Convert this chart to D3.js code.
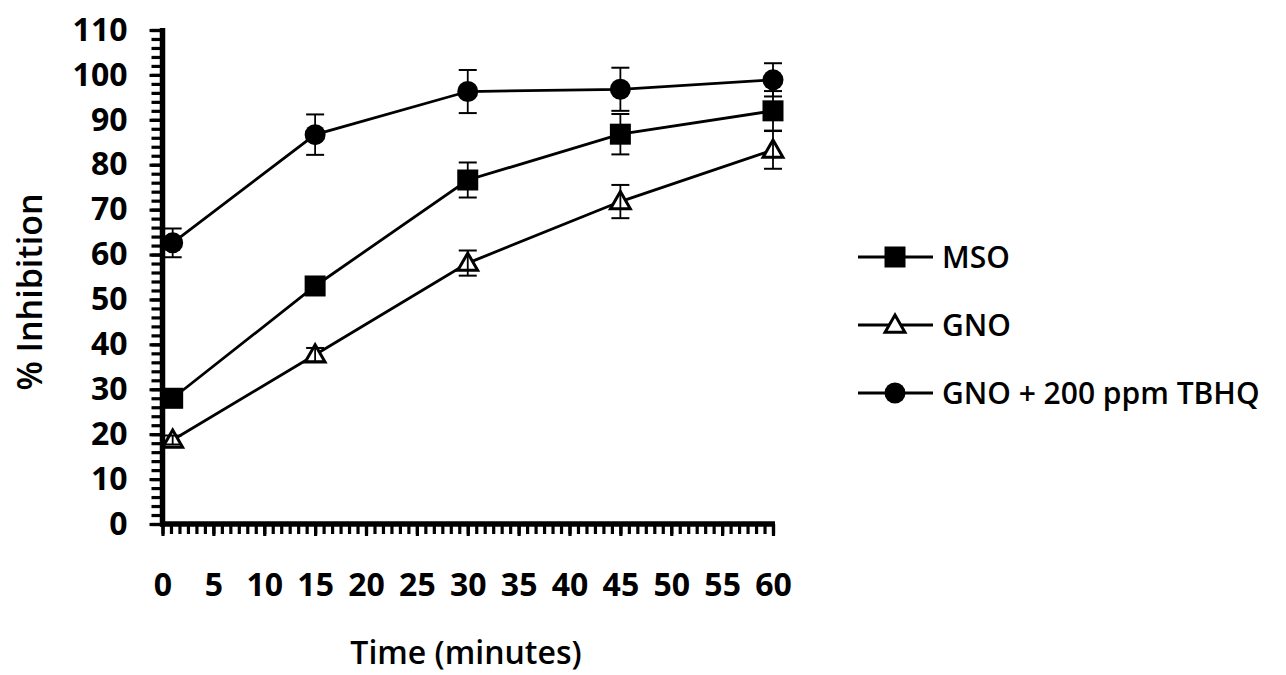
<!DOCTYPE html>
<html>
<head>
    <title>% Inhibition over time</title>
    <script src="https://cdn.jsdelivr.net/npm/d3@7"></script>
    <style>
        body {
            margin: 0;
            padding: 0;
            background-color: white;
        }

        .tick-label, .axis-title, .legend-label {
            font-family: "Open Sans", sans-serif;
            font-weight: 600;
            fill: black;
        }

        .tick-label {
            font-weight: 700;
        }
    </style>
</head>
<body>
    <div id="chart"></div>

    <script>
        // values
        const times = [1, 15, 30, 45, 60];
        const msoValues = [28, 53, 76.6, 86.8, 92];
        const msoErrors = [2, 2, 3.9, 4.5, 4.4];
        const gnoValues = [18.7, 37.7, 58.1, 71.8, 83.3];
        const gnoErrors = [1, 1.5, 2.8, 3.7, 4.2];
        const tbhqValues = [62.6, 86.7, 96.3, 96.8, 98.9];
        const tbhqErrors = [3.2, 4.5, 4.8, 4.8, 3.7];

        const seriesNames = ["MSO", "GNO", "GNO + 200 ppm TBHQ"];
        const yTickValues = [0, 10, 20, 30, 40, 50, 60, 70, 80, 90, 100, 110];
        const xTickValues = [0, 5, 10, 15, 20, 25, 30, 35, 40, 45, 50, 55, 60];

        const width = 1286, height = 675;

        const series = [
            { name: seriesNames[0], values: msoValues, errors: msoErrors, shape: "square" },
            { name: seriesNames[1], values: gnoValues, errors: gnoErrors, shape: "triangle" },
            { name: seriesNames[2], values: tbhqValues, errors: tbhqErrors, shape: "circle" }
        ];

        const svg = d3.select("#chart")
            .append("svg")
            .attr("width", width)
            .attr("height", height);

        const xScale = d3.scaleLinear().domain([0, 60]).range([162.5, 773]);
        const yScale = d3.scaleLinear().domain([0, 110]).range([524, 30]);

        // minor ticks first
        svg.append("g")
            .attr("transform", `translate(${xScale(0)},0)`)
            .call(d3.axisLeft(yScale).tickValues(d3.range(0, 111, 2)).tickSize(11).tickFormat(""))
            .call(g => g.select(".domain").remove())
            .call(g => g.selectAll("line").attr("stroke-width", 3.2));

        svg.append("g")
            .attr("transform", `translate(0,${yScale(0)})`)
            .call(d3.axisBottom(xScale).tickValues(d3.range(0, 60.001, 5 / 6)).tickSize(10).tickFormat(""))
            .call(g => g.select(".domain").remove())
            .call(g => g.selectAll("line").attr("stroke-width", 3.2));

        // major ticks + labels
        svg.append("g")
            .attr("transform", `translate(${xScale(0)},0)`)
            .call(d3.axisLeft(yScale).tickValues(yTickValues).tickSize(13).tickSizeOuter(0).tickPadding(22))
            .call(g => g.select(".domain").remove())
            .call(g => g.selectAll("line").attr("stroke-width", 3.2))
            .call(g => g.selectAll("text").attr("class", "tick-label").style("font-size", "32px"));

        svg.append("g")
            .attr("transform", `translate(0,${yScale(0)})`)
            .call(d3.axisBottom(xScale).tickValues(xTickValues).tickSize(12).tickSizeOuter(0).tickPadding(37))
            .call(g => g.select(".domain").remove())
            .call(g => g.selectAll("line").attr("stroke-width", 3.2))
            .call(g => g.selectAll("text").attr("class", "tick-label").style("font-size", "32px"));

        svg.selectAll(".tick text").attr("font-family", null).attr("font-size", null).attr("fill", null);

        // heavy axis lines
        svg.append("line")
            .attr("x1", xScale(0)).attr("x2", xScale(0))
            .attr("y1", yScale(0) + 2.5).attr("y2", yScale(110) - 2)
            .attr("stroke", "black").attr("stroke-width", 5.5);
        svg.append("line")
            .attr("x1", xScale(0) - 2.5).attr("x2", xScale(60) + 2)
            .attr("y1", yScale(0)).attr("y2", yScale(0))
            .attr("stroke", "black").attr("stroke-width", 5.5);

        // axis titles
        svg.append("text")
            .attr("class", "axis-title")
            .attr("transform", "translate(42,292) rotate(-90)")
            .style("text-anchor", "middle")
            .style("font-size", "34px")
            .text("% Inhibition");

        svg.append("text")
            .attr("class", "axis-title")
            .attr("x", 466)
            .attr("y", 664)
            .style("text-anchor", "middle")
            .style("font-size", "32px")
            .text("Time (minutes)");

        const symbolFor = {
            square: d3.symbol().type(d3.symbolSquare).size(441),
            circle: d3.symbol().type(d3.symbolCircle).size(346),
            triangle: d3.symbol().type(d3.symbolTriangle).size(170)
        };

        function drawMarker(g, shape, x, y) {
            g.append("path")
                .attr("d", symbolFor[shape]())
                .attr("transform", `translate(${x},${y + (shape === "triangle" ? 1.5 : 0)})`)
                .attr("fill", shape === "triangle" ? "white" : "black")
                .attr("stroke", "black")
                .attr("stroke-width", shape === "triangle" ? 3 : 0);
        }

        const line = d3.line()
            .x((d, i) => xScale(times[i]))
            .y(d => yScale(d));

        series.forEach(s => {
            const g = svg.append("g");
            g.append("path")
                .datum(s.values)
                .attr("d", line)
                .attr("fill", "none")
                .attr("stroke", "black")
                .attr("stroke-width", 2.8);

            s.values.forEach((v, i) => drawMarker(g, s.shape, xScale(times[i]), yScale(v)));

            // error bars on top of markers
            s.values.forEach((v, i) => {
                const x = xScale(times[i]);
                const y1 = yScale(v - s.errors[i]);
                const y2 = yScale(v + s.errors[i]);
                g.append("line").attr("x1", x).attr("x2", x).attr("y1", y1).attr("y2", y2)
                    .attr("stroke", "black").attr("stroke-width", 1.8);
                [y1, y2].forEach(yy => {
                    g.append("line").attr("x1", x - 9).attr("x2", x + 9).attr("y1", yy).attr("y2", yy)
                        .attr("stroke", "black").attr("stroke-width", 2);
                });
            });
        });

        // legend
        const legendY = [257, 325, 393];
        series.forEach((s, i) => {
            const g = svg.append("g");
            g.append("line")
                .attr("x1", 858).attr("x2", 933)
                .attr("y1", legendY[i]).attr("y2", legendY[i])
                .attr("stroke", "black").attr("stroke-width", 2.8);
            drawMarker(g, s.shape, 895, legendY[i]);
            g.append("text")
                .attr("class", "legend-label")
                .attr("x", 942)
                .attr("y", legendY[i])
                .attr("dy", "0.36em")
                .style("font-size", "30px")
                .text(s.name);
        });
    </script>
</body>
</html>
